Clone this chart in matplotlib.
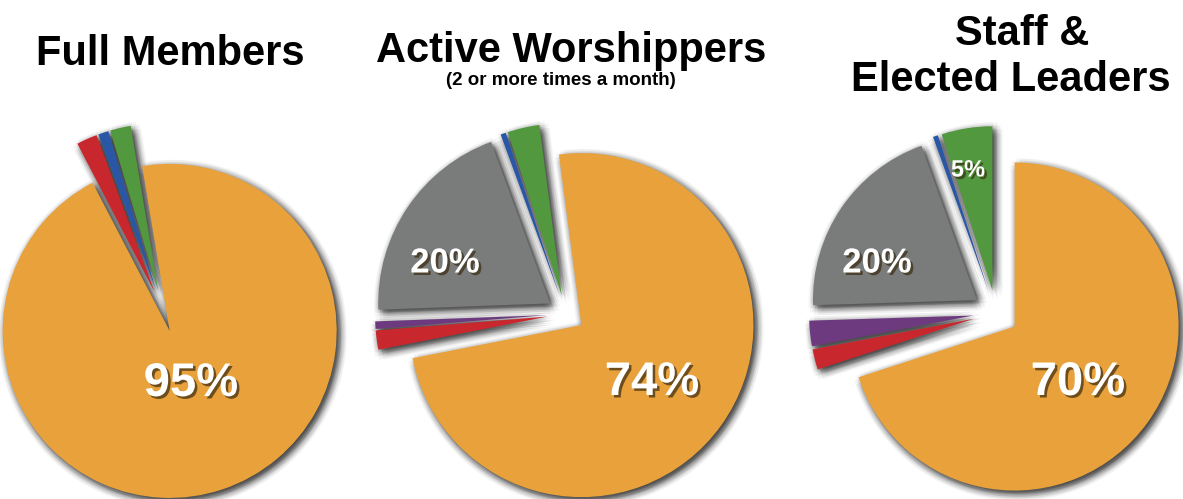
import matplotlib
matplotlib.use("Agg")
import matplotlib.pyplot as plt
import matplotlib.patheffects as pe
import numpy as np

# ---- data ----
categories = ["Main", "Green", "Blue", "Gray", "Purple", "Red"]
colors = ["#E9A23B", "#52983F", "#2A57A5", "#7A7B7B", "#6D3A80", "#C8272E"]

full_members = [95, 2, 1, 0, 0, 2]
active_worshippers = [74, 3, 0.5, 20, 0.7, 1.8]
staff_leaders = [70, 5, 0.5, 20, 2.5, 2]

titles = ["Full Members", "Active Worshippers", "Staff &\nElected Leaders"]
subtitle = "(2 or more times a month)"

# labels shown on slices (None = not labelled)
labels_full = ["95%", None, None, None, None, None]
labels_active = ["74%", None, None, "20%", None, None]
labels_staff = ["70%", "5%", None, "20%", None, None]

# ---- layout (pixel coordinates, y measured from top) ----
W, H = 1183, 499
pies = [
    dict(vals=full_members, labels=labels_full, c=(163, 311), r=167, ex=21, start=117.5,
         lpos={0: (191, 384)}, lsize={0: 34}),
    dict(vals=active_worshippers, labels=labels_active, c=(566, 314), r=172, ex=19, start=191.1,
         lpos={0: (652, 383), 3: (445, 263)}, lsize={0: 34, 3: 25}),
    dict(vals=staff_leaders, labels=labels_staff, c=(996, 313), r=164, ex=23, start=198,
         lpos={0: (1078, 383), 3: (877, 263), 1: (968, 170)}, lsize={0: 34, 3: 25, 1: 17}),
]

fig = plt.figure(figsize=(W / 100, H / 100), dpi=100)
ax = fig.add_axes([0, 0, 1, 1])

font = ["Liberation Sans", "DejaVu Sans"]

# soft shadow offsets
shadow_offsets = []
for rad in (1.5, 3.5, 5.5, 7.5):
    for a in np.linspace(0, 2 * np.pi, 10, endpoint=False):
        shadow_offsets.append((3 + rad * np.cos(a), -3 + rad * np.sin(a)))

for p in pies:
    cx, cy = p["c"][0], H - p["c"][1]
    explode = [p["ex"]] * len(p["vals"])
    for dx, dy in shadow_offsets:
        ax.pie(p["vals"], explode=explode, startangle=p["start"], radius=p["r"],
               center=(cx + dx, cy + dy), colors=["#000000"] * len(p["vals"]),
               wedgeprops=dict(linewidth=0, alpha=0.03, zorder=1), frame=True)
    ax.pie(p["vals"], explode=explode, startangle=p["start"], radius=p["r"],
           center=(cx, cy), colors=colors,
           wedgeprops=dict(linewidth=0, zorder=2), frame=True)
    for i, lab in enumerate(p["labels"]):
        if lab is None:
            continue
        x, y = p["lpos"][i]
        ax.text(x, H - y, lab, ha="center", va="center", color="white",
                fontsize=p["lsize"][i], fontweight="bold", family=font, zorder=5,
                path_effects=[pe.withSimplePatchShadow(offset=(1.8, -1.8),
                                                       shadow_rgbFace="#3a2a10", alpha=0.7)])

# titles
ax.text(170, H - 65, titles[0], ha="center", va="baseline", fontsize=30,
        fontweight="bold", family=font, color="black")
ax.text(571, H - 62, titles[1], ha="center", va="baseline", fontsize=30,
        fontweight="bold", family=font, color="black")
ax.text(561, H - 85, subtitle, ha="center", va="baseline", fontsize=13.5,
        fontweight="bold", family=font, color="black")
t1, t2 = titles[2].split("\n")
ax.text(1022, H - 45, t1, ha="center", va="baseline", fontsize=30,
        fontweight="bold", family=font, color="black")
ax.text(1011, H - 91, t2, ha="center", va="baseline", fontsize=30,
        fontweight="bold", family=font, color="black")

ax.set_xlim(0, W)
ax.set_ylim(0, H)
ax.set_aspect("auto")
ax.axis("off")

fig.savefig("out.png", dpi=100, facecolor="white")
